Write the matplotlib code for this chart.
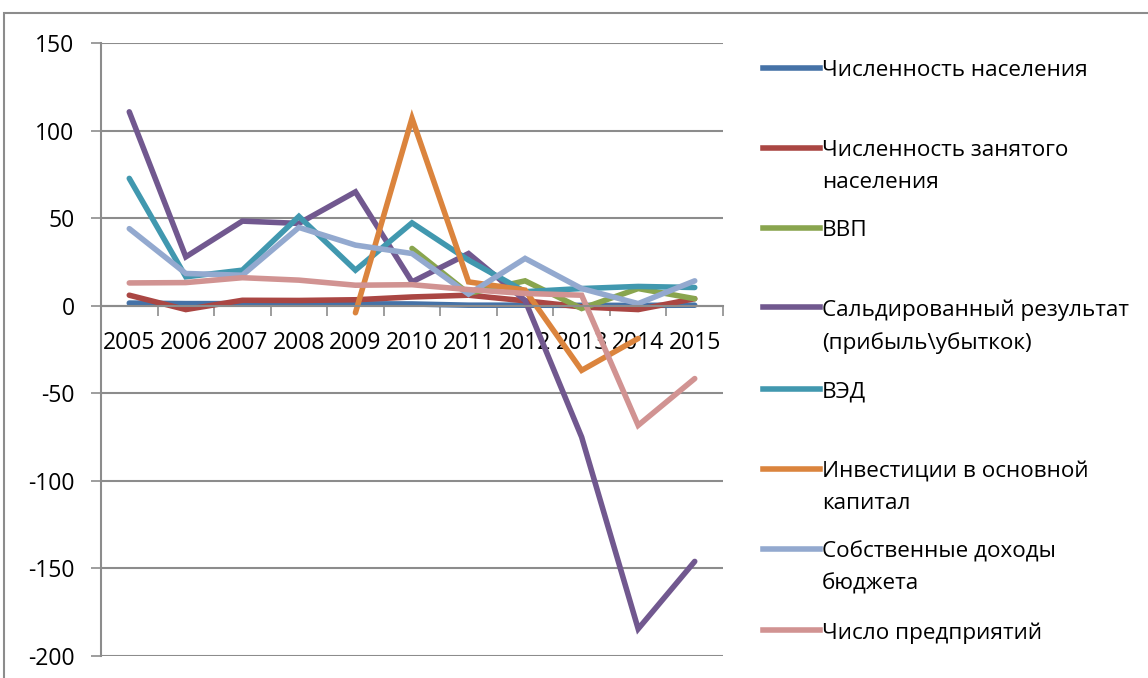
import numpy as np
import matplotlib
matplotlib.use("Agg")
import matplotlib.pyplot as plt
from matplotlib.lines import Line2D
from matplotlib.patches import Rectangle

plt.rcParams["font.family"] = ["Open Sans", "DejaVu Sans"]
plt.rcParams["axes.unicode_minus"] = False

# --- данные ---
years = ["2005", "2006", "2007", "2008", "2009", "2010",
         "2011", "2012", "2013", "2014", "2015"]
nan = np.nan

naselenie = [1.5, 1.2, 1.2, 1.2, 1.1, 1.0, 0.3, 0.3, 0.2, 0.2, 0.3]
zanyatoe = [6, -2.2, 3.1, 3, 3.4, 5, 6, 2.8, -0.7, -2.2, 4]
vvp = [nan, nan, nan, nan, nan, 32.7, 7, 14.2, -1.6, 9.8, 4]
saldo = [110.7, 27.9, 48.3, 47, 65, 13.6, 29.8, 3, -75, -184.5, -146]
ved = [72.7, 16.5, 20.3, 51, 20.3, 47.3, 26, 8, 9.8, 11, 10.4]
invest = [nan, nan, nan, nan, -4, 107, 13.6, 8.9, -36.9, -18.7, nan]
dohody = [44, 18.4, 17.4, 44.7, 34.6, 29.8, 6.6, 27, 9.8, 1.2, 14.2]
predpr = [13, 13.2, 16, 14.6, 11.7, 12, 9.2, 7, 6, -68.3, -41.6]

series = [
    ("Численность населения", naselenie, "#4572A7"),
    ("Численность занятого\nнаселения", zanyatoe, "#AA4643"),
    ("ВВП", vvp, "#89A54E"),
    ("Сальдированный результат\n(прибыль\\убыткок)", saldo, "#71588F"),
    ("ВЭД", ved, "#4198AF"),
    ("Инвестиции в основной\nкапитал", invest, "#DB843D"),
    ("Собственные доходы\nбюджета", dohody, "#93A9CF"),
    ("Число предприятий", predpr, "#D19392"),
]

W, H = 1148, 678
fig = plt.figure(figsize=(W / 100, H / 100), dpi=100)
fig.patch.set_facecolor("white")

# рамка диаграммы
fig.patches.append(Rectangle((4 / W, -0.05), 1.2, 1 - 13 / H + 0.05,
                             transform=fig.transFigure, fill=False,
                             edgecolor="#8c8c8c", linewidth=1.5))

ax = fig.add_axes([101 / W, 1 - 656 / H, 622 / W, 613 / H])
x = np.arange(len(years))
for name, vals, col in series:
    ax.plot(x, vals, color=col, linewidth=4.0, solid_capstyle="round",
            solid_joinstyle="miter")

ax.set_xlim(-0.5, len(years) - 0.5)
ax.set_ylim(-200, 150)
ax.set_yticks(np.arange(-200, 151, 50))
ax.yaxis.grid(True, color="#8c8c8c", linewidth=1.5)
ax.set_axisbelow(True)
ax.tick_params(axis="y", length=7, width=1.2, color="#8c8c8c",
               labelsize=16.5, pad=12)

ax.spines["bottom"].set_position(("data", 0))
for s in ("top", "right"):
    ax.spines[s].set_visible(False)
for s in ("left", "bottom"):
    ax.spines[s].set_color("#8c8c8c")
    ax.spines[s].set_linewidth(1.5)

ax.set_xticks(x)
ax.set_xticklabels(years)
ax.set_xticks(np.arange(-0.5, len(years)), minor=True)
ax.tick_params(axis="x", which="major", length=0, labelsize=16.5, pad=18)
ax.tick_params(axis="x", which="minor", length=7, width=1.2, color="#8c8c8c")

# легенда вручную, как в Excel
leg_y = [68, 148, 228, 307, 389, 469, 549, 630]
for (name, vals, col), yy in zip(series, leg_y):
    fy = 1 - yy / H
    fig.add_artist(Line2D([763 / W, 820 / W], [fy, fy], color=col,
                          linewidth=4.0, transform=fig.transFigure))
    fig.text(822 / W, fy + 8 / H, name, fontsize=16.2, va="top", ha="left",
             linespacing=1.66, transform=fig.transFigure)

fig.savefig("out.png", dpi=100, facecolor="white")
